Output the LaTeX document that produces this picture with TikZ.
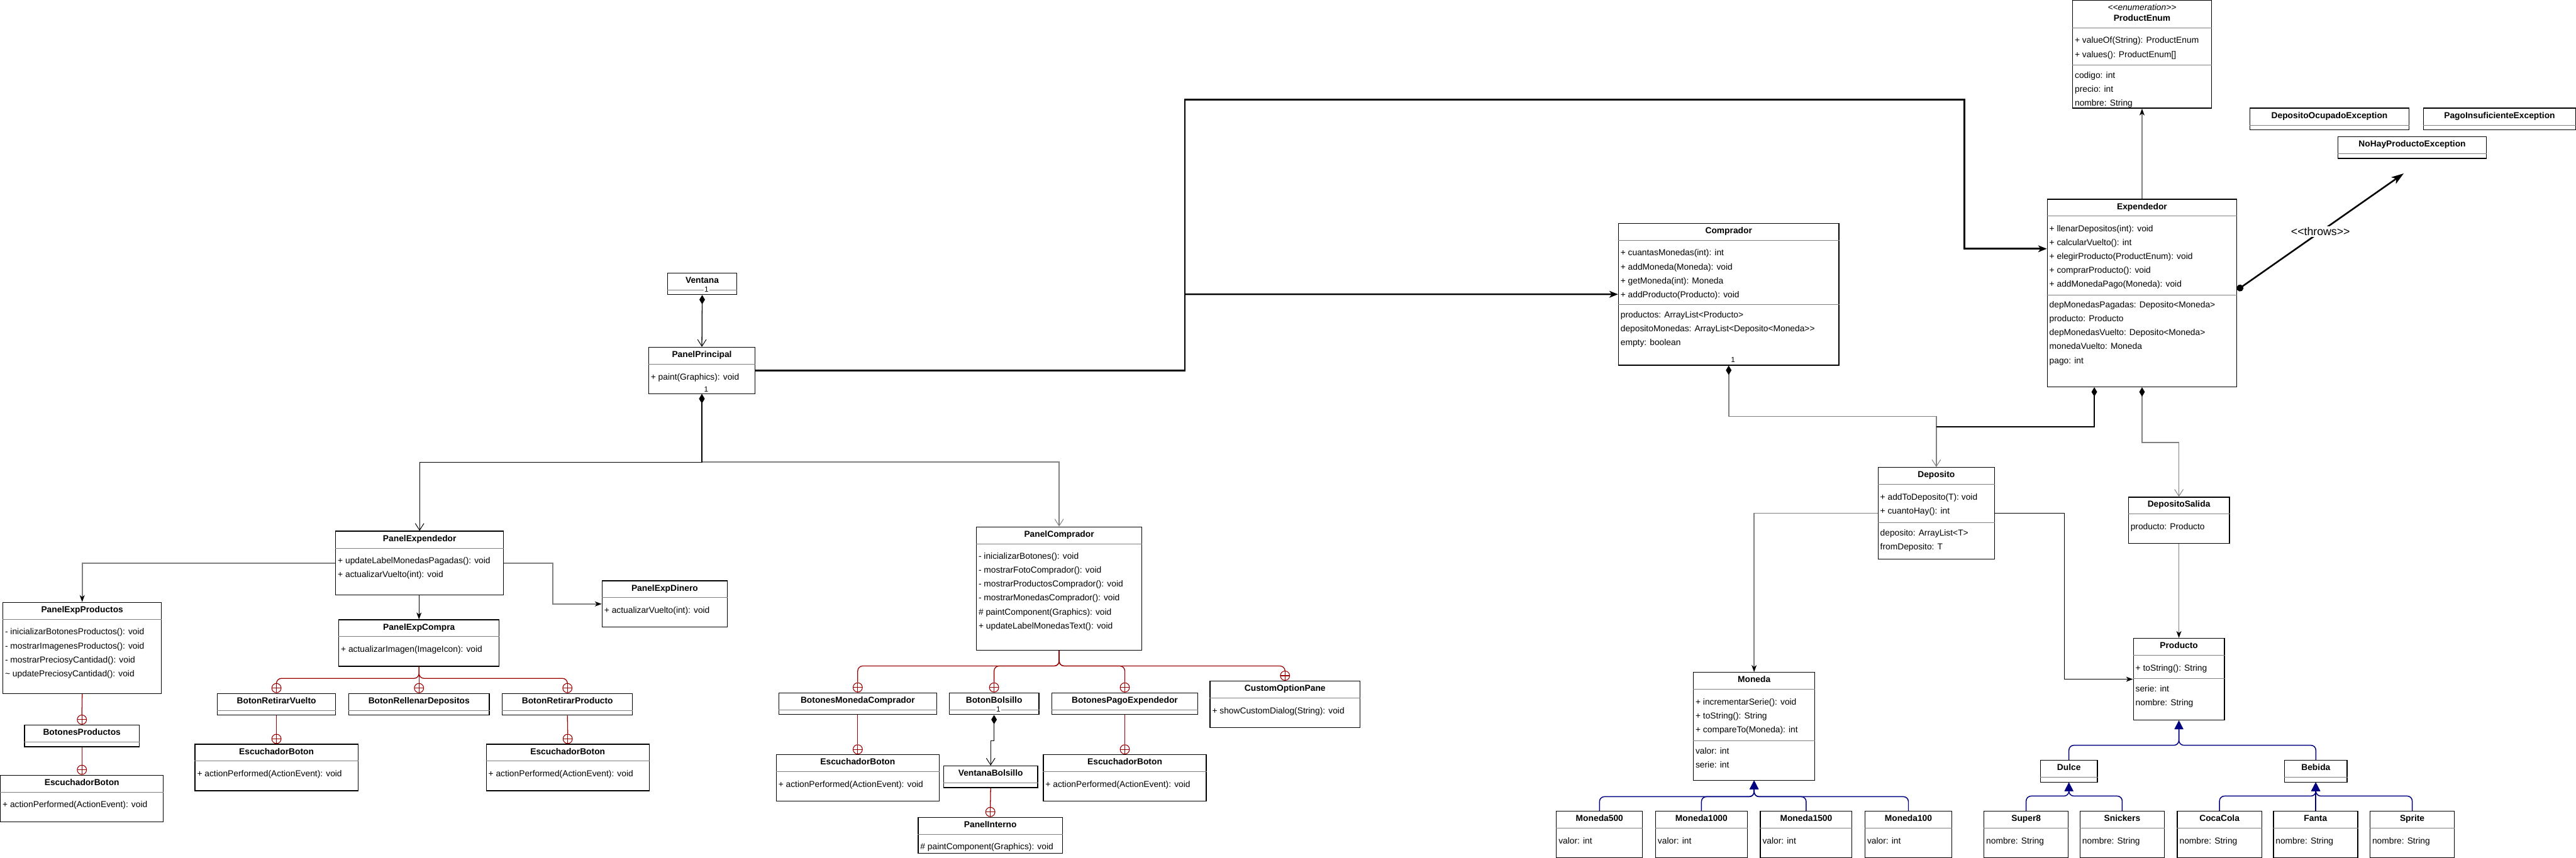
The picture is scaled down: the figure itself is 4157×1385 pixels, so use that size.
\documentclass[tikz,border=0pt]{standalone}
\usepackage{fontspec}
\setmainfont{Liberation Sans}
\usepackage{tikz}
\usetikzlibrary{arrows.meta, positioning}
\definecolor{lnkgray}{HTML}{808080}
\definecolor{nestred}{HTML}{990000}
\definecolor{inhblue}{HTML}{000080}

\tikzset{
  classbox/.style={draw, line width=1.3pt, fill=white, anchor=north west, inner sep=0pt},
  classtitle/.style={font=\bfseries\fontsize{14}{16}\selectfont, anchor=base, inner sep=0pt},
  stereo/.style={font=\itshape\fontsize{14}{16}\selectfont, anchor=base, inner sep=0pt},
  member/.style={font=\fontsize{14}{16}\selectfont, anchor=base west, inner sep=0pt},
  mult/.style={font=\fontsize{12}{14}\selectfont, fill=white, inner sep=1pt},
  sepline/.style={draw=lnkgray, line width=1pt},
  lnk/.style={draw=lnkgray, line width=1.8pt},
  lnkblk/.style={draw=black, line width=1.3pt},
  compo/.style={{Diamond[length=15pt,width=9pt,color=black]}-{Straight Barb[length=11pt,width=14pt,line width=1pt]}},
  ownstart/.style={{Diamond[length=15pt,width=9pt,color=black]}-},
  tohead/.style={-{Stealth[length=11pt,width=8pt,inset=3pt,color=black]}},
  thickline/.style={line width=2.6pt, -{Stealth[length=14pt,width=11pt,inset=4pt]}},
  throwsline/.style={line width=2.6pt, {Circle[length=11pt]}-{Stealth[length=20pt,width=13pt,inset=5pt]}},
  throwslabel/.style={font=\fontsize{18}{20}\selectfont, fill=white, inner sep=2pt},
  nest/.style={draw=nestred, line width=1.3pt, rounded corners=8pt},
  nestmark/.style={circle, draw=nestred, line width=1.1pt, fill=white, minimum size=15pt, inner sep=0pt,
    path picture={\draw[nestred, line width=1.1pt] (path picture bounding box.north) -- (path picture bounding box.south)
      (path picture bounding box.west) -- (path picture bounding box.east);}},
  inh/.style={draw=inhblue, line width=1.5pt, rounded corners=8pt, -{Triangle[length=14pt,width=14pt]}}
}

\newcommand{\classhead}{28pt}
\newcommand{\titlebase}{17pt}
% #1 name, #2 top left, #3 width, #4 height, #5 title, #6 first block, #7 second separator (0 = none), #8 second block
\newcommand{\umlclass}[8]{%
  \node[classbox, minimum width=#3pt, minimum height=#4pt] (#1) at (#2) {};
  \node[classtitle] (#1-title) at ([yshift=-\titlebase]#1.north) {#5};
  \draw[sepline] ([yshift=-\classhead]#1.north west) -- ([yshift=-\classhead]#1.north east);
  \begin{scope}
    \clip (#1.north west) rectangle (#1.south east);
    \foreach \m [count=\i from 0] in {#6} {
      \node[member] (#1-a\i) at ([xshift=4pt, yshift=-\classhead-25pt-\i*22.4pt]#1.north west) {\m};
    }
    \ifdim #7pt>0pt
      \draw[sepline] ([yshift=-#7pt]#1.north west) -- ([yshift=-#7pt]#1.north east);
      \foreach \m [count=\i from 0] in {#8} {
        \node[member] (#1-b\i) at ([xshift=4pt, yshift=-#7pt-21pt-\i*22.4pt]#1.north west) {\m};
      }
    \fi
  \end{scope}
}

\begin{document}
\begin{tikzpicture}[x=1pt, y=-1pt]
\useasboundingbox (0,0) rectangle (4157,1385);
\fill[white] (0,0) rectangle (4157,1385);

% Enumeration and exceptions
\renewcommand{\classhead}{45pt}\renewcommand{\titlebase}{34pt}
\umlclass{productenum}{3344,0}{224}{174}{ProductEnum}{+ valueOf(String): ProductEnum,{+ values(): ProductEnum[]}}{105}{codigo: int,precio: int,nombre: String}
\node[stereo] (productenum-stereo) at ([yshift=-17pt]productenum.north) {<{}<enumeration>{}>};
\renewcommand{\classhead}{28pt}\renewcommand{\titlebase}{17pt}
\umlclass{depositoocupado}{3630,174}{257}{35}{DepositoOcupadoException}{}{0}{}
\umlclass{pagoinsuficiente}{3910,174}{246}{35}{PagoInsuficienteException}{}{0}{}
\umlclass{nohayproducto}{3772,220}{240}{35}{NoHayProductoException}{}{0}{}

% Model classes
\umlclass{expendedor}{3303,321}{306}{303}{Expendedor}{+ llenarDepositos(int): void,+ calcularVuelto(): int,+ elegirProducto(ProductEnum): void,+ comprarProducto(): void,+ addMonedaPago(Moneda): void}{155}{depMonedasPagadas: Deposito<Moneda>,producto: Producto,depMonedasVuelto: Deposito<Moneda>,monedaVuelto: Moneda,pago: int}
\umlclass{comprador}{2611,360}{356}{229}{Comprador}{+ cuantasMonedas(int): int,+ addMoneda(Moneda): void,+ getMoneda(int): Moneda,+ addProducto(Producto): void}{132}{productos: ArrayList<Producto>,depositoMonedas: ArrayList<Deposito<Moneda>{}>,empty: boolean}
\umlclass{deposito}{3030,754}{188}{148}{Deposito}{+ addToDeposito(T): void,+ cuantoHay(): int}{90}{deposito: ArrayList<T>,fromDeposito: T}
\umlclass{depositosalida}{3434,802}{163}{75}{DepositoSalida}{producto: Producto}{0}{}
\umlclass{producto}{3442,1030}{147}{132}{Producto}{+ toString(): String}{66}{serie: int,nombre: String}
\umlclass{moneda}{2732,1085}{196}{174}{Moneda}{+ incrementarSerie(): void,+ toString(): String,+ compareTo(Moneda): int}{111}{valor: int,serie: int}
\foreach \n/\x/\w in {500/2511/139,1000/2671/148,1500/2840/148,100/3009/140} {
  \umlclass{moneda\n}{\x,1309}{\w}{75}{Moneda\n}{valor: int}{0}{}
}
\umlclass{dulce}{3292,1227}{92}{35}{Dulce}{}{0}{}
\umlclass{bebida}{3686,1227}{101}{35}{Bebida}{}{0}{}
\foreach \n/\t/\x in {super8/Super8/3201,snickers/Snickers/3356,cocacola/CocaCola/3513,fanta/Fanta/3668,sprite/Sprite/3824} {
  \umlclass{\n}{\x,1309}{136}{75}{\t}{nombre: String}{0}{}
}

% GUI classes
\umlclass{ventana}{1077,440}{111}{35}{Ventana}{}{0}{}
\umlclass{panelprincipal}{1046,560}{172}{75}{PanelPrincipal}{+ paint(Graphics): void}{0}{}
\umlclass{panelexpendedor}{541,857}{271}{103}{PanelExpendedor}{+ updateLabelMonedasPagadas(): void,+ actualizarVuelto(int): void}{0}{}
\umlclass{panelexpdinero}{971,937}{202}{75}{PanelExpDinero}{+ actualizarVuelto(int): void}{0}{}
\umlclass{panelexpproductos}{4,972}{256}{147}{PanelExpProductos}{- inicializarBotonesProductos(): void,- mostrarImagenesProductos(): void,- mostrarPreciosyCantidad(): void,\textasciitilde{} updatePreciosyCantidad(): void}{0}{}
\umlclass{panelexpcompra}{546,1000}{259}{75}{PanelExpCompra}{+ actualizarImagen(ImageIcon): void}{0}{}
\umlclass{botonesproductos}{39,1170}{185}{35}{BotonesProductos}{}{0}{}
\umlclass{botonretirarvuelto}{350,1119}{191}{35}{BotonRetirarVuelto}{}{0}{}
\umlclass{botonrellenar}{562,1119}{227}{35}{BotonRellenarDepositos}{}{0}{}
\umlclass{botonretirarproducto}{810,1119}{210}{35}{BotonRetirarProducto}{}{0}{}
\umlclass{panelcomprador}{1575,850}{267}{199}{PanelComprador}{- inicializarBotones(): void,- mostrarFotoComprador(): void,- mostrarProductosComprador(): void,- mostrarMonedasComprador(): void,\# paintComponent(Graphics): void,+ updateLabelMonedasText(): void}{0}{}
\umlclass{botonesmoneda}{1256,1118}{255}{35}{BotonesMonedaComprador}{}{0}{}
\umlclass{botonbolsillo}{1531,1118}{145}{35}{BotonBolsillo}{}{0}{}
\umlclass{botonespago}{1697,1118}{235}{35}{BotonesPagoExpendedor}{}{0}{}
\umlclass{customoption}{1952,1099}{242}{75}{CustomOptionPane}{+ showCustomDialog(String): void}{0}{}
\umlclass{ventanabolsillo}{1522,1236}{152}{35}{VentanaBolsillo}{}{0}{}
\umlclass{panelinterno}{1481,1319}{233}{58}{PanelInterno}{\# paintComponent(Graphics): void}{0}{}
\foreach \n/\x/\y in {escL/0/1251,escRV/314/1201,escRP/784/1201,escMC/1252/1218,escPE/1683/1218} {
  \umlclass{\n}{\x,\y}{263}{75}{EscuchadorBoton}{+ actionPerformed(ActionEvent): void}{0}{}
}

% Nesting marks
\node[nestmark, above=0pt of botonesproductos] (mkBP) {};
\node[nestmark, above=0pt of escL] (mkEL) {};
\node[nestmark, above=0pt of botonretirarvuelto] (mkRV) {};
\node[nestmark, above=0pt of botonrellenar] (mkRD) {};
\node[nestmark, above=0pt of botonretirarproducto] (mkRP) {};
\node[nestmark, above=0pt of escRV] (mkERV) {};
\node[nestmark, above=0pt of escRP] (mkERP) {};
\node[nestmark, above=0pt of botonesmoneda] (mkMC) {};
\node[nestmark, above=0pt of botonbolsillo] (mkBB) {};
\node[nestmark, above=0pt of botonespago] (mkPE) {};
\node[nestmark, above=0pt of customoption] (mkCO) {};
\node[nestmark, above=0pt of escMC] (mkEMC) {};
\node[nestmark, above=0pt of escPE] (mkEPE) {};
\node[nestmark, above=0pt of panelinterno] (mkPI) {};

% Nested classes
\draw[nest] (panelexpproductos.south) -- (mkBP.north);
\draw[nest] (botonesproductos.south) -- (mkEL.north);
\coordinate (pecJ) at ([yshift=-19pt]panelexpcompra.south);
\foreach \k in {RV,RP} {\draw[nest] (panelexpcompra.south) -- (pecJ) -| (mk\k.north);}
\draw[nest] (panelexpcompra.south) -- (mkRD.north);
\draw[nest] (botonretirarvuelto.south) -- (mkERV.north);
\draw[nest] (botonretirarproducto.south) -- (mkERP.north);
\coordinate (pcJ) at ([yshift=-25pt]panelcomprador.south);
\foreach \k in {MC,BB,PE,CO} {\draw[nest] (panelcomprador.south) -- (pcJ) -| (mk\k.north);}
\draw[nest] (botonesmoneda.south) -- (mkEMC.north);
\draw[nest] (botonespago.south) -- (mkEPE.north);
\draw[nest] (ventanabolsillo.south) -- (mkPI.north);

% Compositions and associations in the GUI
\draw[lnkblk, compo] (ventana.south) -- (panelprincipal.north);
\node[mult] (mVentana) at ([xshift=7pt, yshift=-27pt]ventana.north) {1};
\coordinate (ppJ) at ([yshift=-110pt]panelprincipal.south);
\draw[lnk, compo] (panelprincipal.south) -- (ppJ) -| (panelcomprador.north);
\draw[lnkblk, compo] (panelprincipal.south) -- (ppJ) -| (panelexpendedor.north);
\node[mult] (mPrincipal) at ([xshift=7pt, yshift=8pt]panelprincipal.south) {1};
\draw[lnk, tohead] (panelexpendedor.west) -| (panelexpproductos.north);
\draw[lnk, tohead] (panelexpendedor.east) -- ++(79,0) |- (panelexpdinero.west);
\draw[lnkblk, tohead] (panelexpendedor.south -| panelexpcompra.north) -- (panelexpcompra.north);
\draw[lnkblk, compo] (botonbolsillo.south) -- ++(0,42) -| (ventanabolsillo.north);
\node[mult] (mBolsillo) at ([xshift=7pt, yshift=9pt]botonbolsillo.south) {1};

% Links from the main panel to the model
\coordinate (topL) at (1912,161);
\coordinate (topR) at (3170,161);
\coordinate (ppFork) at (1912,475);
\draw[thickline] (panelprincipal.east) -| (topL) -- (topR) |- ([yshift=71.5pt]expendedor.west);
\draw[thickline] (ppFork) -- (comprador.west);

% Model relations
\draw[lnk, compo] (comprador.south) -- ++(0,82) -| (deposito.north);
\node[mult] (mComprador) at ([xshift=7pt, yshift=9pt]comprador.south) {1};
\coordinate (depJ) at ([yshift=65pt]deposito.north);
\draw[lnkblk, ownstart] ([xshift=-77pt]expendedor.south) |- (depJ);
\draw[lnk, compo] (expendedor.south) -- ++(0,89) -| (depositosalida.north);
\draw[lnk, tohead] (depositosalida.south) -- (producto.north);
\draw[lnkblk, tohead] (deposito.east) -- ++(112,0) |- (producto.west);
\draw[lnk, tohead] (deposito.west) -| (moneda.north);
\draw[lnk, tohead] (expendedor.north) -- (productenum.south);
\coordinate (throwsEnd) at (3879,280);
\draw[throwsline] ([yshift=5pt]expendedor.east) -- node[throwslabel] (throwsTxt) {<{}<throws>{}>} (throwsEnd);

% Inheritance
\coordinate (monJ) at ([yshift=-26pt]moneda.south);
\foreach \k in {moneda500,moneda1000,moneda1500,moneda100} {\draw[inh] (\k.north) |- (monJ) -- (moneda.south);}
\coordinate (prodJ) at ([yshift=-40pt]producto.south);
\foreach \k in {dulce,bebida} {\draw[inh] (\k.north) |- (prodJ) -- (producto.south);}
\coordinate (dulceJ) at ([yshift=-22pt]dulce.south);
\foreach \k in {super8,snickers} {\draw[inh] (\k.north) |- (dulceJ) -- (dulce.south);}
\coordinate (bebidaJ) at ([yshift=-22pt]bebida.south);
\foreach \k in {cocacola,sprite} {\draw[inh] (\k.north) |- (bebidaJ) -- (bebida.south);}
\draw[inh] (fanta.north) -- (fanta.north |- bebida.south);
\end{tikzpicture}
\end{document}
